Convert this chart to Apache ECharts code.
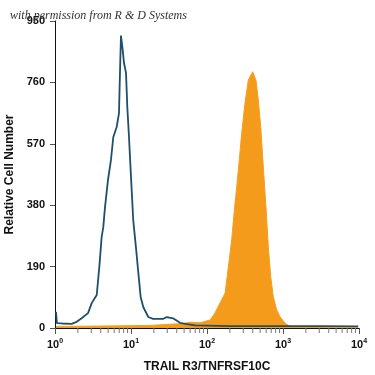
<!DOCTYPE html>
<html>
<head>
<meta charset="utf-8">
<script src="https://cdn.jsdelivr.net/npm/echarts@6/dist/echarts.min.js"></script>
<style>
html,body{margin:0;padding:0;background:#fff;}
#chart{width:375px;height:375px;}
</style>
</head>
<body>
<div id="chart"></div>
<script>
// Isotype control (blue outline) : channel value, relative cell count
const controlX = [1.03, 1.06, 1.24, 1.66, 1.89, 2.24, 2.72, 3.04, 3.54, 3.83, 4.11, 4.32, 4.55, 4.98, 5.45, 5.85, 6.48, 6.95, 7.16, 7.38, 7.78, 8.09, 8.6, 8.94, 9.41, 10, 10.7, 11.6, 12.5, 13.4, 14.5, 16.9, 19.5, 26.4, 29.5, 35.7, 44.2, 54.1, 69.5, 201, 912, 3090, 9770];
const controlY = [50, 15, 14, 13, 18, 30, 46, 77, 102, 189, 282, 312, 374, 458, 520, 591, 622, 665, 789, 905, 860, 820, 789, 684, 591, 467, 334, 251, 170, 96, 65, 34, 28, 28, 34, 30, 16, 12, 8, 6, 6, 6, 5];
// TRAIL R3 stained (orange filled)
const stainX = [1.03, 3.91, 17.8, 48.3, 59.8, 80.9, 110, 127, 148, 173, 191, 211, 229, 246, 266, 286, 316, 349, 399, 441, 473, 509, 551, 597, 641, 689, 745, 826, 913, 1063, 1236, 3090, 9770];
const stainY = [5, 6, 8, 14, 18, 16, 25, 46, 77, 108, 189, 272, 365, 437, 520, 603, 696, 767, 793, 767, 706, 623, 499, 375, 252, 159, 97, 56, 35, 15, 5, 3, 2];
// Axis ticks
const yTicks = [0, 190, 380, 570, 760, 950];
const xMajor = [1, 10, 100, 1000, 10000];
const minorMult = [2, 3, 4, 5, 6, 7, 8, 9];
const minorTicks = [];
xMajor.slice(0, 4).forEach(d => minorMult.forEach(m => minorTicks.push(d * m)));

const FONT = '"Liberation Sans", Arial, sans-serif';
const chart = echarts.init(document.getElementById('chart'), null, {renderer: 'canvas'});

const pair = (xs, ys) => xs.map((x, i) => [x, ys[i]]);

chart.setOption({
  animation: false,
  backgroundColor: '#ffffff',
  grid: {left: 55, right: 16, top: 21, bottom: 47, containLabel: false, outerBoundsMode: 'none'},
  xAxis: {
    type: 'log', logBase: 10, min: xMajor[0], max: xMajor[xMajor.length - 1],
    name: 'TRAIL R3/TNFRSF10C', nameLocation: 'middle', nameGap: 33,
    nameTextStyle: {fontFamily: FONT, fontWeight: 'bold', fontSize: 12, color: '#111'},
    axisLine: {show: true, lineStyle: {color: '#111', width: 1}},
    axisTick: {show: true, inside: false, length: 6, lineStyle: {color: '#555'}},
    splitLine: {show: false},
    axisLabel: {
      margin: 10, color: '#111', fontFamily: FONT, fontWeight: 'bold', fontSize: 11,
      formatter: v => '10{s|' + Math.round(Math.log10(v)) + '}',
      rich: {s: {fontSize: 7, fontWeight: 'bold', fontFamily: FONT, verticalAlign: 'top', padding: [0, 0, 6, 0]}}
    }
  },
  yAxis: {
    type: 'value', min: yTicks[0], max: yTicks[yTicks.length - 1], interval: yTicks[1] - yTicks[0],
    name: 'Relative Cell Number', nameLocation: 'middle', nameGap: 24, nameRotate: 90,
    nameTextStyle: {fontFamily: FONT, fontWeight: 'bold', fontSize: 12, color: '#111'},
    axisLine: {show: true, lineStyle: {color: '#111', width: 1}},
    axisTick: {show: true, inside: false, length: 5, lineStyle: {color: '#555'}},
    splitLine: {show: false},
    axisLabel: {margin: 10, color: '#111', fontFamily: FONT, fontWeight: 'bold', fontSize: 11}
  },
  series: [
    {
      type: 'line', name: 'stained', data: pair(stainX, stainY), symbol: 'none',
      lineStyle: {color: '#f4a020', width: 1},
      areaStyle: {color: '#f59b1c', opacity: 1},
      z: 2
    },
    {
      type: 'line', name: 'control', data: pair(controlX, controlY), symbol: 'none',
      lineStyle: {color: '#1f4f6a', width: 1.8},
      z: 3
    },
    {
      type: 'custom', name: 'minorTicks', data: minorTicks.map(v => [v, 0]), clip: false, silent: true,
      renderItem: (params, api) => {
        const p = api.coord([api.value(0), 0]);
        return {type: 'line', shape: {x1: p[0], y1: p[1], x2: p[0], y2: p[1] + 5},
          style: {stroke: '#777', lineWidth: 1}};
      },
      z: 4
    }
  ],
  graphic: [{
    type: 'text', left: 10, top: 10, z: 10,
    style: {text: 'with permission from R & D Systems', fontFamily: '"Liberation Serif", serif',
      fontStyle: 'italic', fontSize: 12, fill: '#333'}
  }]
});
</script>
</body>
</html>
